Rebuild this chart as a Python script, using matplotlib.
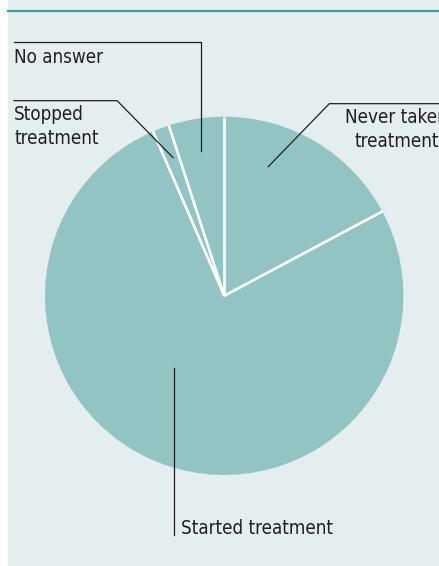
import matplotlib
matplotlib.use('Agg')
import numpy as np
import matplotlib.pyplot as plt
from matplotlib.patches import Rectangle

# Share of respondents (%), clockwise from 12 o'clock
categories = ['Never taken\ntreatment', 'Started treatment', 'Stopped\ntreatment', 'No answer']
values = [17.2, 76.3, 1.5, 5.0]

W, H = 439, 566
BG = '#e4eef0'
PIE = '#92c4c4'
TEAL = '#3a9e9c'
INK = '#231f20'
CX, CY, R = 224, 296, 179

plt.rcParams['font.family'] = ['DejaVu Sans']

# +0.4 px so float rounding doesn't drop the last column/row
fig = plt.figure(figsize=((W + 0.4) / 100, (H + 0.4) / 100), dpi=100)
ax = fig.add_axes([0, 0, 1, 1])

def py(y):
    # pixel row (from top) -> data y
    return H - y

# panel background and top rule
ax.add_patch(Rectangle((8, -5), W, H + 10, color=BG, zorder=0, clip_on=False))
ax.plot([8, W + 2], [py(11), py(11)], color=TEAL, lw=1.6, zorder=1, clip_on=False)

# pie, no outline; white separators drawn as spokes only
ax.pie(values, center=(CX, py(CY)), radius=R, startangle=90,
       counterclock=False, colors=[PIE] * len(values),
       wedgeprops=dict(linewidth=0), frame=True)
bounds = 90 - 360 * np.concatenate([[0], np.cumsum(values)[:-1]]) / sum(values)
for a in np.radians(bounds):
    ax.plot([CX, CX + R * np.cos(a)], [py(CY), py(CY) + R * np.sin(a)],
            color='white', lw=1.9, solid_capstyle='butt', zorder=3)

# figure is already 1 px per data unit, so no aspect box shrinking
ax.set_aspect('auto')
ax.set_xlim(0, W)
ax.set_ylim(0, H)
ax.axis('off')

# leader lines
lk = dict(color=INK, lw=0.9, zorder=5)
ax.plot([14, 201, 201], [py(42), py(42), py(151)], **lk)
ax.plot([14, 117, 173], [py(101), py(101), py(158)], **lk)
ax.plot([W + 2, 329, 268], [py(104), py(104), py(167)], clip_on=False, **lk)
ax.plot([174, 174], [py(368), py(535)], **lk)

# labels, one line at a time on its baseline
tk = dict(fontsize=13.5, color=INK, fontstretch='condensed', va='baseline', zorder=6)
never1, never2 = categories[0].split('\n')
stop1, stop2 = categories[2].split('\n')
ax.text(14, py(63), categories[3], ha='left', **tk)
ax.text(14, py(120), stop1, ha='left', **tk)
ax.text(14, py(144), stop2, ha='left', **tk)
ax.text(396, py(123), never1, ha='center', **tk)
ax.text(396, py(147), never2, ha='center', **tk)
ax.text(181, py(534), categories[1], ha='left', **tk)

fig.savefig('out.png', dpi=100, facecolor='white')
